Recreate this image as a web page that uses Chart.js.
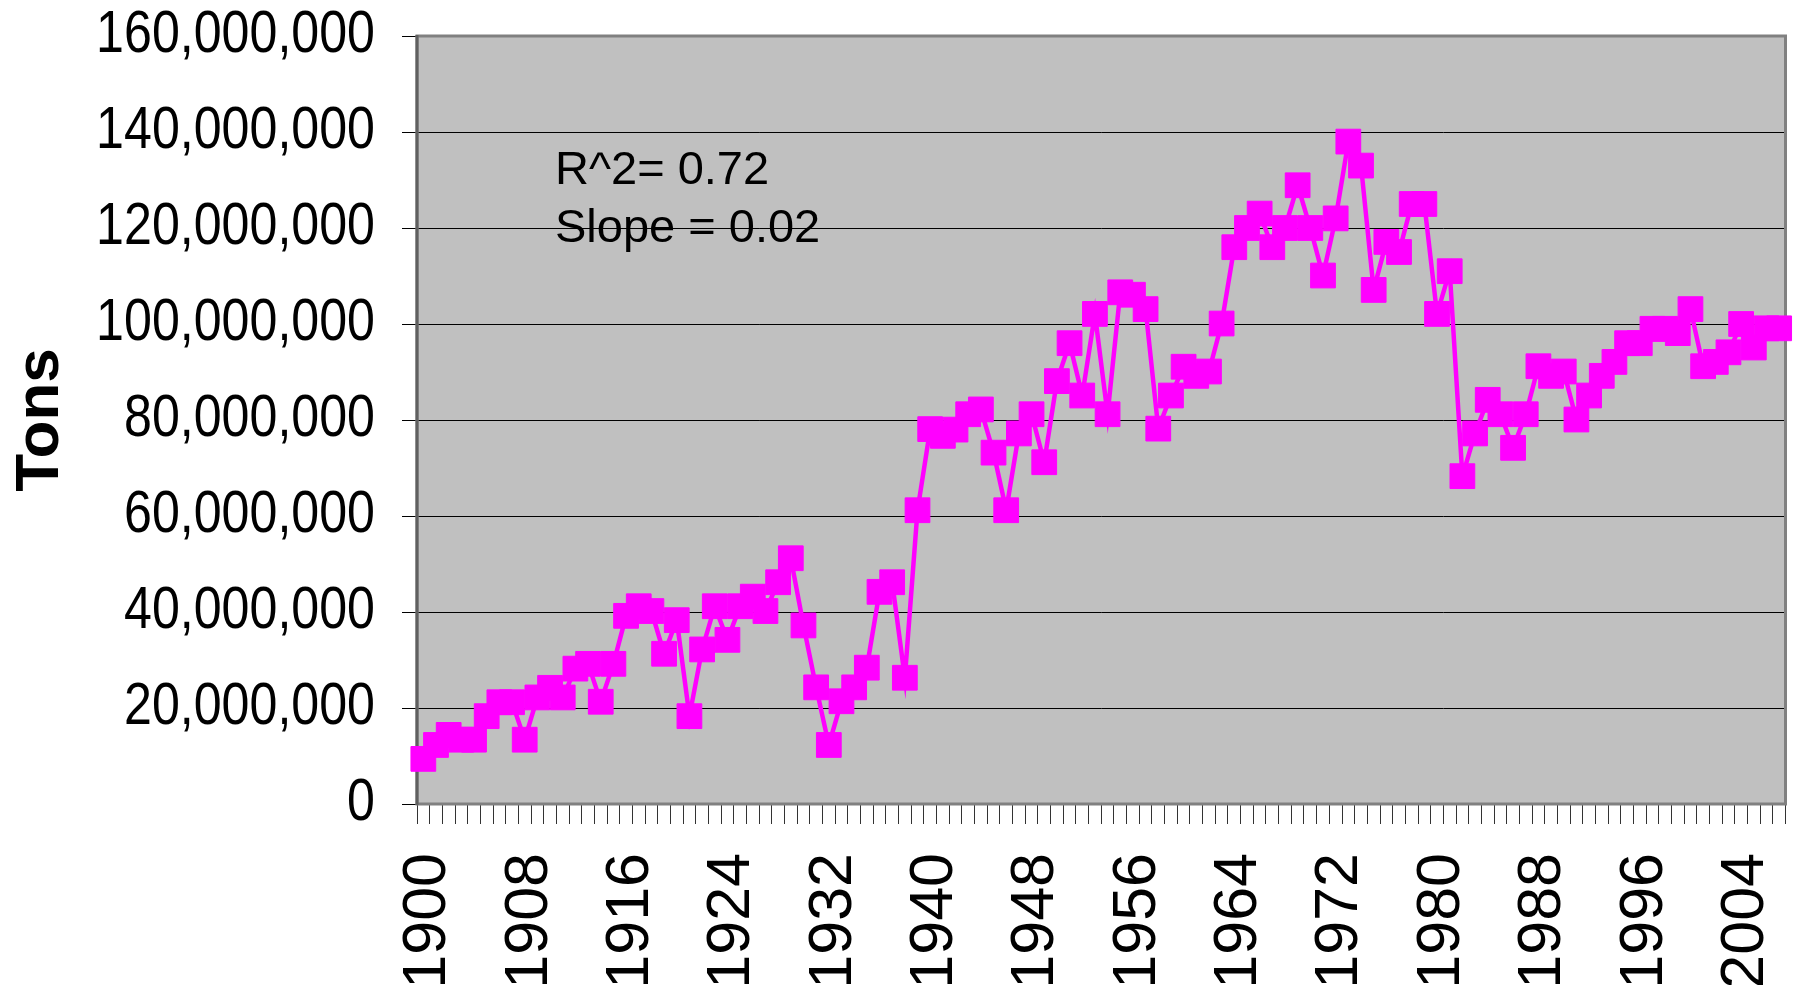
<!DOCTYPE html>
<html>
<head>
<meta charset="utf-8">
<script src="https://cdn.jsdelivr.net/npm/chart.js@4/dist/chart.umd.min.js"></script>
<style>
  html, body { margin: 0; padding: 0; background: #fff; overflow: hidden; }
  #wrap { width: 1804px; height: 985px; }
</style>
</head>
<body>
<div id="wrap"><canvas id="chart" width="1804" height="985"></canvas></div>
<script>
// annual tonnage, millions of tons, 1900 onwards
const startYear = 1900;
const tonsMillions = [
  9.4, 12.3, 14.4, 13.4, 13.4, 18.3, 21.2, 21.2, 13.4, 22.2,
  24.2, 22.2, 28.2, 29.2, 21.3, 29.2, 39.2, 41.2, 40.2, 31.3,
  38.3, 18.3, 32.2, 41.2, 34.2, 41.2, 43.2, 40.2, 46.2, 51.2,
  37.2, 24.3, 12.3, 21.4, 24.3, 28.4, 44.2, 46.2, 26.3, 61.2,
  78.1, 76.7, 78.0, 81.2, 82.2, 73.2, 61.2, 77.2, 81.2, 71.2,
  88.1, 96.0, 85.1, 102.1, 81.2, 106.6, 106.1, 103.1, 78.2, 85.1,
  91.1, 89.2, 90.1, 100.1, 116.0, 120.0, 123.0, 116.0, 120.0, 128.9,
  120.0, 110.1, 122.0, 138.0, 133.0, 107.1, 117.1, 115.0, 125.0, 125.0,
  102.1, 111.0, 68.3, 77.2, 84.2, 81.2, 74.2, 81.2, 91.2, 89.2,
  90.1, 80.1, 85.1, 89.2, 92.1, 96.0, 96.0, 99.0, 99.0, 98.1,
  103.1, 91.2, 92.1, 94.1, 100.0, 95.1, 99.1, 99.1
];
const years = tonsMillions.map((v, i) => String(startYear + i));
const tons = tonsMillions.map(v => v * 1000000);
const yMax = 160000000;
const yStep = 20000000;
const labelEvery = 8;
const statLines = ['R^2= 0.72', 'Slope = 0.02'];

const plotBackground = {
  id: 'plotBackground',
  beforeDraw(chart) {
    const { ctx, chartArea: a } = chart;
    ctx.save();
    ctx.fillStyle = '#c0c0c0';
    ctx.fillRect(a.left, a.top, a.right - a.left, a.bottom - a.top);
    ctx.restore();
  },
  beforeDatasetsDraw(chart) {
    const { ctx, chartArea: a } = chart;
    ctx.save();
    ctx.strokeStyle = '#808080';
    ctx.lineWidth = 3;
    ctx.strokeRect(a.left, a.top, a.right - a.left, a.bottom - a.top);
    ctx.strokeStyle = '#606060';
    ctx.beginPath();
    ctx.moveTo(a.left, a.top - 1);
    ctx.lineTo(a.left, a.bottom + 1);
    ctx.stroke();
    ctx.restore();
  },
  afterDraw(chart) {
    const ctx = chart.ctx;
    const y = chart.scales.y;
    ctx.save();
    ctx.fillStyle = '#000';
    // y tick labels: the original uses a condensed face, so squeeze them
    ctx.font = '59px "Liberation Sans", Arial, sans-serif';
    ctx.textAlign = 'right';
    ctx.textBaseline = 'middle';
    y.ticks.forEach(t => {
      ctx.save();
      ctx.translate(y.right - 42, y.getPixelForValue(t.value));
      ctx.scale(0.85, 1);
      ctx.fillText(t.value.toLocaleString('en-US'), 0, 0);
      ctx.restore();
    });
    ctx.font = '47px "Liberation Sans", Arial, sans-serif';
    ctx.textAlign = 'left';
    ctx.textBaseline = 'alphabetic';
    ctx.fillText(statLines[0], 555, 184);
    ctx.fillText(statLines[1], 555, 242);
    ctx.restore();
  }
};

new Chart(document.getElementById('chart').getContext('2d'), {
  type: 'line',
  data: {
    labels: years,
    datasets: [{
      label: 'Tons',
      data: tons,
      borderColor: '#ff00ff',
      borderWidth: 4.5,
      backgroundColor: '#ff00ff',
      pointStyle: 'rect',
      pointRadius: 17.5,
      pointHoverRadius: 17.5,
      pointBackgroundColor: '#ff00ff',
      pointBorderColor: '#ff00ff',
      pointBorderWidth: 1,
      tension: 0,
      clip: false
    }]
  },
  options: {
    responsive: false,
    animation: false,
    layout: { padding: { top: 36, right: 11, left: 0, bottom: 0 } },
    plugins: {
      legend: { display: false },
      tooltip: { enabled: false }
    },
    scales: {
      x: {
        type: 'category',
        offset: true,
        afterFit(scale) {
          scale.height = 181;
          scale.paddingLeft = 0;
          scale.paddingRight = 0;
        },
        grid: {
          offset: true,
          drawOnChartArea: false,
          drawTicks: true,
          tickLength: 20,
          color: '#333',
          lineWidth: 1
        },
        border: { display: false },
        ticks: {
          autoSkip: false,
          minRotation: 90,
          maxRotation: 90,
          padding: 29,
          labelOffset: 5,
          color: '#000',
          font: { family: '"Liberation Sans", Arial, sans-serif', size: 61 },
          callback: (val, idx) => (idx % labelEvery === 0 ? years[idx] : '')
        }
      },
      y: {
        min: 0,
        max: yMax,
        afterFit(scale) {
          scale.width = 417;
          scale.paddingTop = 0;
          scale.paddingBottom = 0;
        },
        grid: {
          color: '#000',
          lineWidth: 1,
          tickLength: 15
        },
        border: { display: false },
        ticks: {
          display: false,
          stepSize: yStep
        },
        title: {
          display: true,
          text: 'Tons',
          color: '#000',
          padding: { top: 4, bottom: 0 },
          font: { family: '"Liberation Sans", Arial, sans-serif', size: 62, weight: 'bold' }
        }
      }
    }
  },
  plugins: [plotBackground]
});
</script>
</body>
</html>
